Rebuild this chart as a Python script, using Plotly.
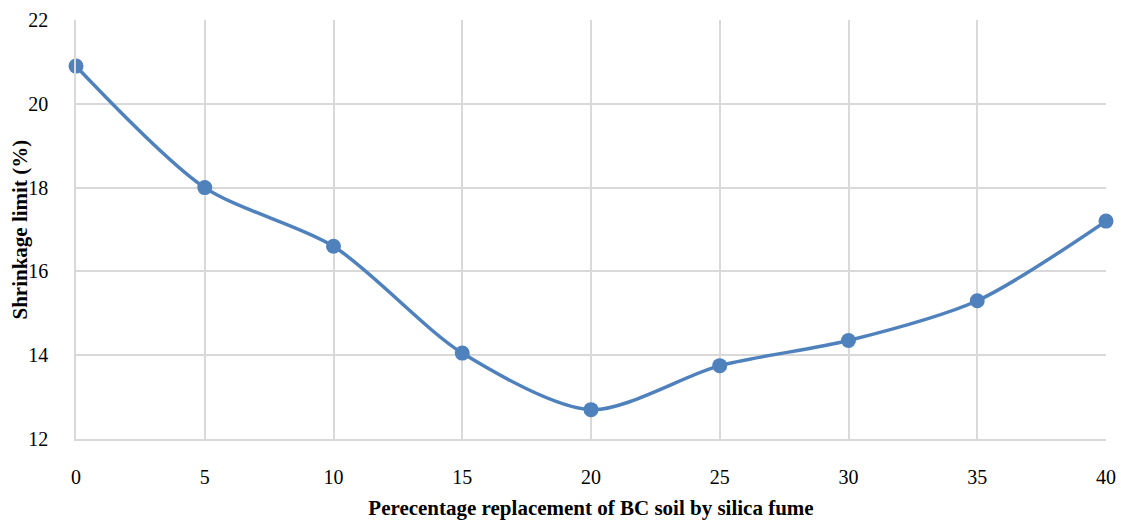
import plotly.graph_objects as go

replacement = [0, 5, 10, 15, 20, 25, 30, 35, 40]
shrinkage = [20.9, 18.0, 16.6, 14.05, 12.7, 13.75, 14.35, 15.3, 17.2]
x_ticks = [0, 5, 10, 15, 20, 25, 30, 35, 40]
y_ticks = [12, 14, 16, 18, 20, 22]

FONT = "Liberation Serif, Times New Roman, serif"
GRID = "#d9d9d9"
PLOT_W = 1121 - 76 - 15

fig = go.Figure()
fig.add_trace(go.Scatter(
    x=replacement, y=shrinkage, mode="lines+markers",
    line=dict(color="#4f81bd", width=3.5, shape="spline", smoothing=0.8),
    marker=dict(color="#4f81bd", size=15),
    showlegend=False, cliponaxis=False,
))

fig.update_layout(
    width=1121, height=520,
    margin=dict(l=76, r=15, t=20, b=81, autoexpand=False),
    paper_bgcolor="white", plot_bgcolor="white",
    font=dict(family=FONT, size=20, color="black"),
    xaxis=dict(
        range=[0, 40], tickvals=x_ticks, ticks="outside", ticklen=19,
        tickcolor="rgba(0,0,0,0)", showgrid=True, gridcolor=GRID, gridwidth=1.5,
        showline=True, linecolor=GRID, linewidth=1.5, zeroline=False, automargin=False,
        tickfont=dict(size=20),
        title=dict(text="<b>Perecentage replacement of BC soil by silica fume</b>",
                   font=dict(size=21), standoff=21),
    ),
    yaxis=dict(
        range=[12, 22], tickvals=y_ticks, ticks="outside", ticklen=22,
        tickcolor="rgba(0,0,0,0)", showgrid=True, gridcolor=GRID, gridwidth=1.5,
        showline=True, linecolor=GRID, linewidth=1.5, zeroline=False, automargin=False,
        tickfont=dict(size=20),
    ),
    annotations=[dict(
        text="<b>Shrinkage limit (%)</b>", font=dict(size=21),
        xref="paper", yref="paper", x=-(76 - 19) / PLOT_W, y=0.5,
        xanchor="center", yanchor="middle", textangle=-90, showarrow=False,
    )],
)
fig.write_html(
    "out.html",
    config={"displayModeBar": False},
    post_script="document.body.style.margin='0';document.body.style.overflow='hidden';",
)
